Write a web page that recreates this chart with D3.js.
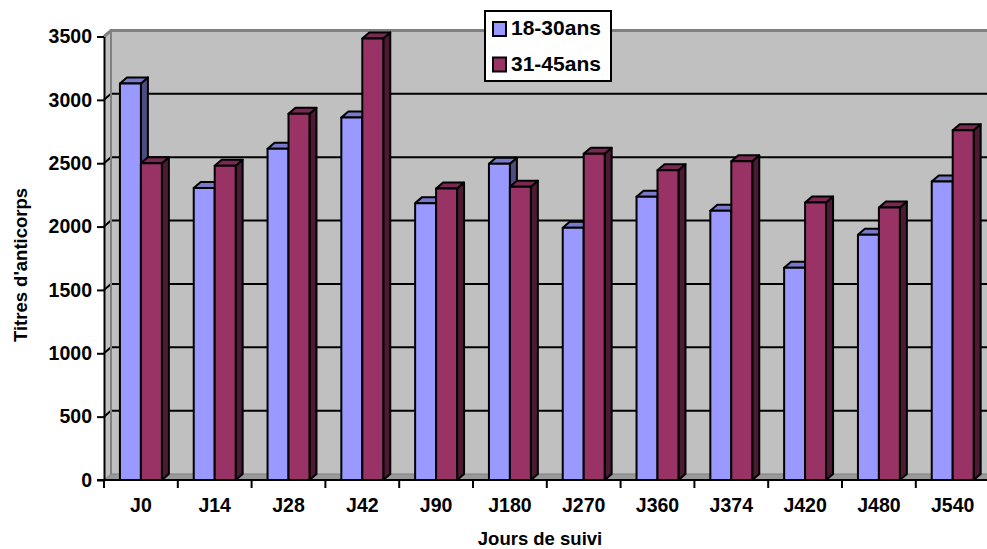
<!DOCTYPE html>
<html>
<head>
<meta charset="utf-8">
<script src="https://cdnjs.cloudflare.com/ajax/libs/d3/7.8.5/d3.min.js"></script>
<style>
  body { margin: 0; background: #fff; }
  text { font-family: Arial, "Liberation Sans", sans-serif; font-weight: bold; fill: #000; }
</style>
</head>
<body>
<div id="chart"></div>
<script>
// data
var categories = ["J0", "J14", "J28", "J42", "J90", "J180", "J270", "J360", "J374", "J420", "J480", "J540"]
var seriesNames = ["18-30ans", "31-45ans"]
var values1830 = [3130, 2305, 2615, 2860, 2185, 2495, 1990, 2235, 2125, 1675, 1935, 2355]
var values3145 = [2500, 2480, 2890, 3485, 2300, 2315, 2575, 2445, 2515, 2190, 2150, 2760]
var yTicks = [0, 500, 1000, 1500, 2000, 2500, 3000, 3500]

var width = 987, height = 549
var plotLeft = 104, plotBottom = 480, plotTop = 36.5, step = 73.8
var dx = 7, dy = 6   // 3d depth offset

// colours: front, top, side
var colors = {
    "18-30ans": ["#9999ff", "#7a7acc", "#4d4d80"],
    "31-45ans": ["#993366", "#7a2952", "#4d1a33"]
}

var svg = d3.select("#chart")
    .append("svg")
    .attr("width", width)
    .attr("height", height)

var x0 = d3.scaleBand()
    .domain(categories)
    .range([plotLeft, plotLeft + step * categories.length])

var x1 = d3.scaleBand()
    .domain(seriesNames)
    .range([0, x0.bandwidth()])
    .paddingOuter(0.76)

var y = d3.scaleLinear()
    .domain([0, 3500])
    .range([plotBottom, plotTop])

var right = x0.range()[1]

// back wall
svg.append("rect")
    .attr("x", plotLeft + dx).attr("y", plotTop - dy)
    .attr("width", right - plotLeft).attr("height", plotBottom - plotTop)
    .style("fill", "#c0c0c0")

// side wall
svg.append("polygon")
    .attr("points", [[plotLeft, plotBottom], [plotLeft + dx, plotBottom - dy], [plotLeft + dx, plotTop - dy], [plotLeft, plotTop]].join(" "))
    .style("fill", "#c0c0c0")

// gridlines on the wall
yTicks.forEach(function (t) {
    if (t === 0) return
    svg.append("polyline")
        .attr("points", [[plotLeft, y(t)], [plotLeft + dx, y(t) - dy], [right + dx, y(t) - dy]].join(" "))
        .style("fill", "none")
        .style("stroke", t === 3500 ? "#808080" : "#000")
        .style("stroke-width", t === 3500 ? 3 : 2)
})

// wall edge
svg.append("line")
    .attr("x1", plotLeft + dx).attr("x2", plotLeft + dx)
    .attr("y1", plotTop - dy).attr("y2", plotBottom - dy)
    .style("stroke", "#808080").style("stroke-width", 2)

// floor
svg.append("polygon")
    .attr("points", [[plotLeft, plotBottom], [plotLeft + dx, plotBottom - dy], [right + dx, plotBottom - dy], [right, plotBottom]].join(" "))
    .style("fill", "#999999")
    .style("stroke", "#808080")
    .style("stroke-width", 1)

// bars
var data = categories.map(function (c, i) {
    return { cat: c, vals: [{ s: seriesNames[0], v: values1830[i] }, { s: seriesNames[1], v: values3145[i] }] }
})

var groups = svg.selectAll(".grp")
    .data(data)
    .enter()
    .append("g")
    .attr("class", "grp")
    .attr("transform", d => "translate(" + x0(d.cat) + ",0)")

groups.each(function (d) {
    var g = d3.select(this)
    d.vals.forEach(function (b) {
        var bx = x1(b.s), w = x1.bandwidth(), top = y(b.v)
        var bar = g.append("g")
        bar.append("polygon")
            .attr("points", [[bx + w, top], [bx + w + dx, top - dy], [bx + w + dx, plotBottom - dy], [bx + w, plotBottom]].join(" "))
            .style("fill", colors[b.s][2])
        bar.append("polygon")
            .attr("points", [[bx, top], [bx + dx, top - dy], [bx + w + dx, top - dy], [bx + w, top]].join(" "))
            .style("fill", colors[b.s][1])
        bar.append("rect")
            .attr("x", bx).attr("y", top)
            .attr("width", w).attr("height", plotBottom - top)
            .style("fill", colors[b.s][0])
        bar.selectAll("polygon,rect")
            .style("stroke", "#000")
            .style("stroke-width", 2)
            .style("stroke-linejoin", "round")
    })
})

// y axis
var yAxis = svg.append("g")
    .attr("transform", "translate(" + plotLeft + ",0)")
    .call(d3.axisLeft(y).tickValues(yTicks).tickFormat(d3.format("d")).tickSize(7).tickSizeOuter(0).tickPadding(5))
yAxis.selectAll("text").style("font-size", "19.5px")

// x axis: labels centred, ticks at boundaries
var xAxis = svg.append("g")
    .attr("transform", "translate(0," + plotBottom + ")")
    .call(d3.axisBottom(x0).tickSize(0).tickPadding(18))
xAxis.select(".domain").attr("d", "M" + (plotLeft - 7) + ",0H" + right)
xAxis.selectAll("text").style("font-size", "19.5px")
categories.forEach(function (c) {
    xAxis.append("line")
        .attr("x1", x0(c)).attr("x2", x0(c))
        .attr("y1", 0).attr("y2", 8)
})

svg.selectAll(".domain, .tick line, g > line")
    .style("stroke", "#000")
    .style("stroke-width", 2)

// axis titles
svg.append("text")
    .attr("x", 540).attr("y", 545)
    .attr("text-anchor", "middle")
    .style("font-size", "18.5px")
    .text("Jours de suivi")

svg.append("text")
    .attr("transform", "translate(27,265) rotate(-90)")
    .attr("text-anchor", "middle")
    .style("font-size", "18.5px")
    .text("Titres d'anticorps")

// legend
var legend = svg.append("g")
legend.append("rect")
    .attr("x", 485).attr("y", 11).attr("width", 126).attr("height", 70)
    .style("fill", "#fff").style("stroke", "#000").style("stroke-width", 2)
seriesNames.forEach(function (s, i) {
    legend.append("rect")
        .attr("x", 493).attr("y", 22 + i * 35.5).attr("width", 13).attr("height", 14)
        .style("fill", colors[s][0]).style("stroke", "#000").style("stroke-width", 2)
    legend.append("text")
        .attr("x", 511).attr("y", 35 + i * 35.7)
        .style("font-size", "21px")
        .text(s)
})
</script>
</body>
</html>
